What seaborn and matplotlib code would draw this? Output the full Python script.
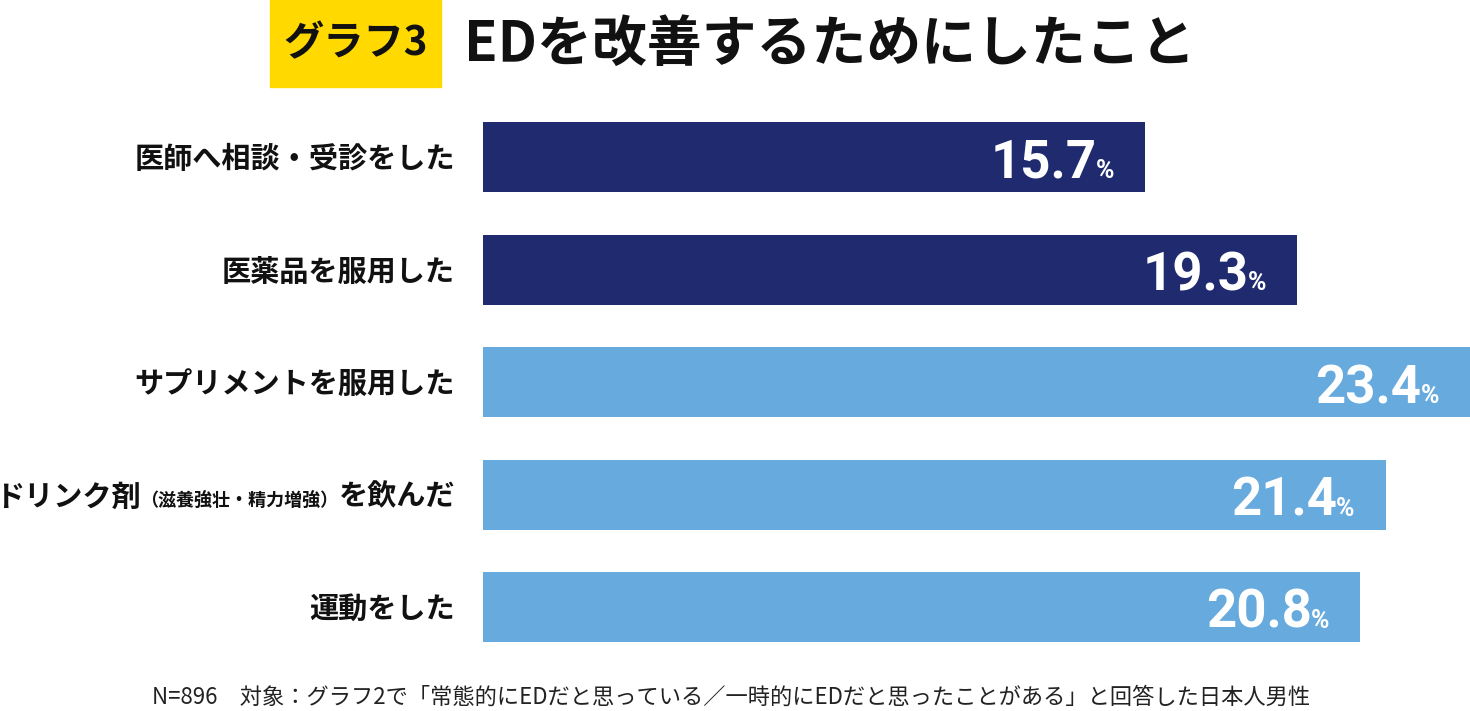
import matplotlib
matplotlib.use("Agg")
import matplotlib.pyplot as plt
import matplotlib.patches as mpatches
from matplotlib.transforms import IdentityTransform
import seaborn as sns
import pandas as pd

categories = ["医師へ相談・受診をした", "医薬品を服用した", "サプリメントを服用した",
              "ドリンク剤（滋養強壮・精力増強）を飲んだ", "運動をした"]
values = [15.7, 19.3, 23.4, 21.4, 20.8]
groups = ["医療", "医療", "セルフケア", "セルフケア", "セルフケア"]
palette = {"医療": "#202A6F", "セルフケア": "#67AADE"}
title_tag = "グラフ3"
title = "EDを改善するためにしたこと"
footnote = "N=896　対象：グラフ2で「常態的にEDだと思っている／一時的にEDだと思ったことがある」と回答した日本人男性"

sns.set_theme(style="white")
JP = ["Noto Sans CJK JP", "DejaVu Sans"]
NUM = ["Roboto", "DejaVu Sans"]
plt.rcParams["font.family"] = JP

W, H = 1470, 711
fig = plt.figure(figsize=(W / 100, H / 100), dpi=100)
fig.patch.set_facecolor("white")
ax = fig.add_axes([483 / W, 1 - 663.25 / H, 1 - 483 / W, (663.25 - 100.75) / H])

df = pd.DataFrame({"category": categories, "value": values, "group": groups})
sns.barplot(data=df, x="value", y="category", hue="group", palette=palette,
            dodge=False, width=70 / 112.5, saturation=1, legend=False,
            linewidth=0, ax=ax)
ax.set_xlim(0, 23.4)
ax.set_ylim(4.5, -0.5)
ax.axis("off")

renderer = fig.canvas.get_renderer()
ident = IdentityTransform()
lab_x = 455

def put(x, y, s, **kw):
    return fig.text(x, y, s, transform=ident, **kw)

for i, (cat, v) in enumerate(zip(categories, values)):
    bx, _ = ax.transData.transform((v, i))
    _, cy = ax.transData.transform((0, i))
    # category labels
    if "（" in cat:
        a, rest = cat.split("（")
        b, c = rest.split("）")
        pieces = [(a, 21), ("（" + b + "）", 13), (c, 21)]
    else:
        pieces = [(cat, 21)]
    x = lab_x
    for s, fs in reversed(pieces):
        t = put(x, cy - 11, s, ha="right", va="baseline", fontsize=fs,
                fontweight="bold", color="#111111", family=JP)
        x = t.get_window_extent(renderer).x0
    # value labels
    p = put(bx - 31, cy - 21, "%", ha="right", va="baseline", fontsize=18,
            fontweight="bold", color="white", family=NUM)
    pe = p.get_window_extent(renderer)
    put(pe.x0 + 1, cy - 21, f"{v:.1f}", ha="right", va="baseline", fontsize=38,
        fontweight="bold", color="white", family=NUM)

# title
fig.patches.append(mpatches.Rectangle((270 / W, 1 - 87 / H), 171 / W, 87 / H,
                                      transform=fig.transFigure, color="#FFD900",
                                      zorder=0))
fig.text(356 / W, 1 - 44 / H, title_tag, ha="center", va="center", fontsize=29,
         fontweight="bold", color="#111111")
fig.text(464 / W, 1 - 44 / H, title, ha="left", va="center", fontsize=39.5,
         fontweight="bold", color="#111111")

fig.text(731 / W, 1 - 697 / H, footnote, ha="center", va="center", fontsize=16,
         color="#222222")

fig.savefig("out.png", dpi=100, facecolor="white")
